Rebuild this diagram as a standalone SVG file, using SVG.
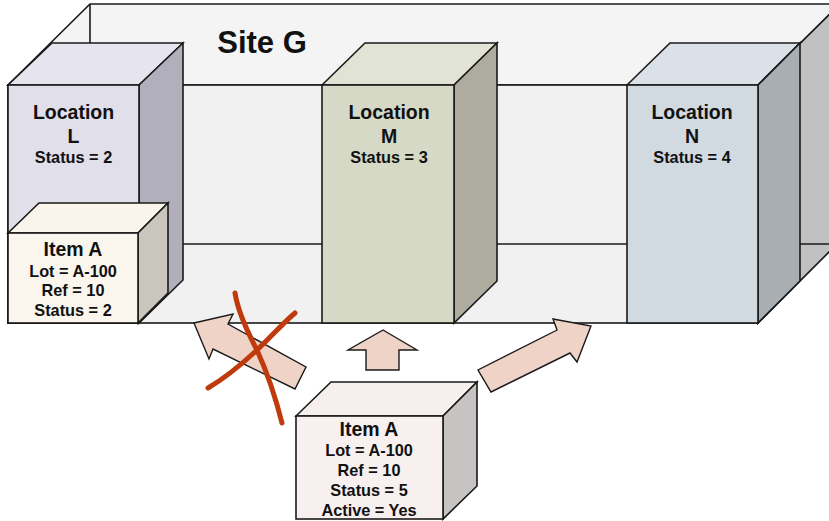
<svg xmlns="http://www.w3.org/2000/svg" width="829" height="521" viewBox="0 0 829 521">
  <style>
    .e { stroke: #1a1a1a; stroke-width: 1.6; stroke-linejoin: miter; }
    .t { font-family: "Liberation Sans", Arial, sans-serif; font-weight: bold; fill: #111; text-anchor: middle; }
    .h { font-size: 19.5px; }
    .s { font-size: 16.3px; }
    .arrow { fill: #efd3c7; stroke: #1a1a1a; stroke-width: 1.4; stroke-linejoin: miter; }
    .x { fill: none; stroke: #bf3a0c; stroke-width: 5; stroke-linecap: round; }
  </style>
  <rect width="829" height="521" fill="#ffffff"/>

  <g id="site-g">
    <polygon class="e" fill="#f4f4f4" points="8,85 90,4 840,4 758,85"/>
    <polygon class="e" fill="#c0c0c0" points="758,85 840,4 840,241 758,323"/>
    <rect class="e" fill="#f1f1f1" x="8" y="85" width="750" height="238"/>
    <line class="e" x1="90" y1="4" x2="90" y2="244"/>
    <line class="e" x1="90" y1="244" x2="840" y2="244"/>
    <text class="t" x="262" y="53" font-size="31">Site G</text>
  </g>

  <g id="location-l">
    <polygon class="e" fill="#e6e4ef" points="8,85 52,43 183,43 139,85"/>
    <polygon class="e" fill="#b1afbb" points="139,85 183,43 183,280 139,323"/>
    <rect class="e" fill="#e1dfea" x="8" y="85" width="131" height="238"/>
    <text class="t h" x="73.5" y="119">Location</text>
    <text class="t h" x="73.5" y="143">L</text>
    <text class="t s" x="73.5" y="163">Status = 2</text>
  </g>

  <g id="location-m">
    <polygon class="e" fill="#e1e3d4" points="322,85 365,43 497,43 454,85"/>
    <polygon class="e" fill="#adac9e" points="454,85 497,43 497,281 454,323"/>
    <rect class="e" fill="#d7d9c7" x="322" y="85" width="132" height="238"/>
    <text class="t h" x="389" y="119">Location</text>
    <text class="t h" x="389" y="143">M</text>
    <text class="t s" x="389" y="163">Status = 3</text>
  </g>

  <g id="location-n">
    <polygon class="e" fill="#dbe1e8" points="627,85 670,43 800,43 758,85"/>
    <polygon class="e" fill="#a8aeb1" points="758,85 800,43 800,281 758,323"/>
    <rect class="e" fill="#d1d9e1" x="627" y="85" width="131" height="238"/>
    <text class="t h" x="692" y="119">Location</text>
    <text class="t h" x="692" y="143">N</text>
    <text class="t s" x="692" y="163">Status = 4</text>
  </g>

  <g id="item-a-placed">
    <polygon class="e" fill="#f9f5ec" points="8,233 39,203 168,203 138,233"/>
    <polygon class="e" fill="#c9c7bd" points="138,233 168,203 168,293 138,323"/>
    <rect class="e" fill="#faf6ee" x="8" y="233" width="130" height="90"/>
    <text class="t h" x="73" y="256">Item A</text>
    <text class="t s" x="73" y="277">Lot = A-100</text>
    <text class="t s" x="73" y="296">Ref = 10</text>
    <text class="t s" x="73" y="316">Status = 2</text>
  </g>

  <g id="connectors">
    <polygon class="arrow" points="194,323 233,314 228,324 306,367 295,389 213,349 209,359"/>
    <polygon class="arrow" points="383,330 417,350 399,350 399,370 366,370 366,350 348,350"/>
    <polygon class="arrow" points="591,326 577,362 570,353 491,392 478,370 557,330 553,319"/>
    <g id="cross-out">
      <path class="x" d="M235,293 C238,312 248,333 257,350 C266,370 275,395 282,423"/>
      <path class="x" d="M295,313 C282,324 270,338 257,350 C242,364 225,378 208,388"/>
    </g>
  </g>

  <g id="item-a-new">
    <polygon class="e" fill="#f7efee" points="296,416 331,382 477,382 443,416"/>
    <polygon class="e" fill="#c8c3c3" points="443,416 477,382 477,486 443,519"/>
    <rect class="e" fill="#f8f0ef" x="296" y="416" width="147" height="103"/>
    <text class="t h" x="369" y="436">Item A</text>
    <text class="t s" x="369" y="456">Lot = A-100</text>
    <text class="t s" x="369" y="476">Ref = 10</text>
    <text class="t s" x="369" y="496">Status = 5</text>
    <text class="t s" x="369" y="516">Active = Yes</text>
  </g>
</svg>
